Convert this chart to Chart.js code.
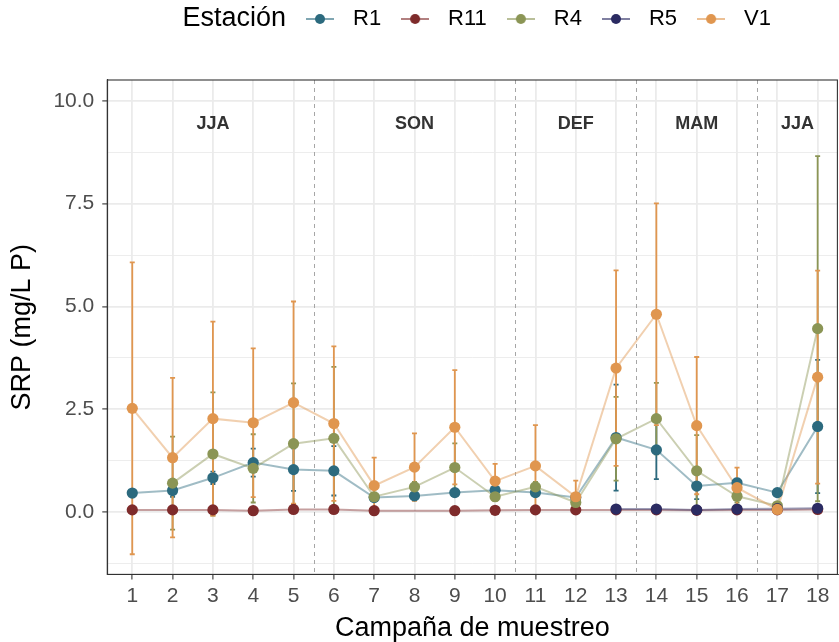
<!DOCTYPE html>
<html>
<head>
<meta charset="utf-8">
<script src="https://cdn.jsdelivr.net/npm/chart.js@4.4.0/dist/chart.umd.min.js"></script>
<style>
html,body{margin:0;padding:0;overflow:hidden;background:#ffffff;}
canvas{display:block;}
</style>
</head>
<body>
<canvas id="c" width="843" height="642"></canvas>
<script>
// ---------------- data ----------------
const campaigns = [1,2,3,4,5,6,7,8,9,10,11,12,13,14,15,16,17,18];
const stations = ['R1','R11','R4','R5','V1'];
const stationColors = ['#2C6A7E','#7E2B2B','#8B9555','#2B2B62','#E0964F'];

const r1Mean  = [0.46,0.52,0.83,1.20,1.03,1.00,0.35,0.39,0.47,0.53,0.47,0.35,1.81,1.51,0.63,0.71,0.47,2.08];
const r1Sd    = [0.05,0.15,0.15,0.34,0.52,0.60,0.05,0.05,0.08,0.05,0.05,0.05,1.29,0.71,0.32,0.10,0.05,1.62];
const r11Mean = [0.05,0.05,0.05,0.03,0.06,0.06,0.03,null,0.03,0.04,0.05,0.05,0.05,0.05,0.04,0.05,0.05,0.06];
const r11Sd   = [0.02,0.02,0.02,0.02,0.02,0.02,0.02,null,0.02,0.02,0.02,0.02,0.02,0.02,0.02,0.02,0.02,0.02];
const r4Mean  = [null,0.70,1.41,1.06,1.66,1.79,0.37,0.61,1.08,0.37,0.61,0.23,1.78,2.27,1.00,0.38,0.15,4.46];
const r4Sd    = [null,1.13,1.50,0.83,1.47,1.74,0.10,0.12,0.59,0.10,0.12,0.05,1.02,0.87,0.87,0.15,0.05,4.20];
const r5Mean  = [null,null,null,null,null,null,null,null,null,null,null,null,0.07,0.07,0.05,0.07,0.08,0.09];
const r5Sd    = [null,null,null,null,null,null,null,null,null,null,null,null,0.02,0.02,0.02,0.02,0.02,0.02];
const v1Mean  = [2.52,1.32,2.27,2.17,2.66,2.15,0.64,1.09,2.06,0.75,1.12,0.37,3.50,4.81,2.10,0.59,0.06,3.28];
const v1Sd    = [3.55,1.94,2.36,1.81,2.46,1.88,0.68,0.82,1.39,0.42,0.99,0.39,2.38,2.70,1.67,0.49,0.03,2.59];

const seasonNames   = ['JJA','SON','DEF','MAM','JJA'];
const seasonCenters = [3,8,12,15,17.5];
const seasonBreaks  = [5.5,10.5,13.5,16.5];
const seasonLabelY  = 9.45;

const yMajorTicks = [0,2.5,5,7.5,10];
const yMinorTicks = [-1.25,1.25,3.75,6.25,8.75];

const legendTitle = 'Estación';
const xTitle = 'Campaña de muestreo';
const yTitle = 'SRP (mg/L P)';

// ---------------- helpers ----------------
const means = [r1Mean, r11Mean, r4Mean, r5Mean, v1Mean];
const sds   = [r1Sd, r11Sd, r4Sd, r5Sd, v1Sd];
const FONT = '"Liberation Sans", Arial, Helvetica, sans-serif';
Chart.defaults.font.family = FONT;

function hexA(hex, a){
  const n = parseInt(hex.slice(1),16);
  return 'rgba(' + ((n>>16)&255) + ',' + ((n>>8)&255) + ',' + (n&255) + ',' + a + ')';
}
function legendIcon(color){
  const cv = document.createElement('canvas');
  cv.width = 28; cv.height = 12;
  const g = cv.getContext('2d');
  g.strokeStyle = hexA(color, 0.6); g.lineWidth = 2;
  g.beginPath(); g.moveTo(0,6); g.lineTo(28,6); g.stroke();
  g.fillStyle = color; g.beginPath(); g.arc(14,6,5,0,Math.PI*2); g.fill();
  return cv;
}
const icons = stationColors.map(legendIcon);

const datasets = [];
stations.forEach((s,i)=>{
  datasets.push({
    type:'line', label:s+'-line',
    data: campaigns.map((c,k)=>({x:c, y:means[i][k]})),
    borderColor: hexA(stationColors[i],0.45), borderWidth:2,
    pointRadius:0, pointHoverRadius:0, spanGaps:true, fill:false,
    order: 100 + (stations.length-1-i)
  });
});
const pointIndexStart = datasets.length;
stations.forEach((s,i)=>{
  datasets.push({
    type:'line', label:s, showLine:false,
    data: campaigns.map((c,k)=>({x:c, y:means[i][k]})),
    pointRadius:5.6, pointHoverRadius:5.6, pointBorderWidth:0,
    pointBackgroundColor: stationColors[i], backgroundColor: stationColors[i],
    borderColor: stationColors[i],
    order: stations.length-1-i
  });
});

// ---------------- plugins ----------------
const panelPlugin = {
  id:'panel',
  afterUpdate(chart){
    const lg = chart.legend;
    if(!lg || !lg.legendHitBoxes || !lg.legendHitBoxes.length) return;
    const dx = 298 - lg.legendHitBoxes[0].left;
    const dy = 8 - lg.legendHitBoxes[0].top;
    lg.left += dx; lg.right += dx; lg.top += dy; lg.bottom += dy;
    lg.legendHitBoxes.forEach(h=>{h.left += dx; h.top += dy;});
  },
  beforeDatasetsDraw(chart){
    const {ctx, chartArea:a, scales:{x,y}} = chart;
    ctx.save();
    ctx.strokeStyle = '#A6A6A6'; ctx.lineWidth = 1; ctx.setLineDash([4,4]);
    seasonBreaks.forEach(b=>{
      const px = Math.round(x.getPixelForValue(b))+0.5;
      ctx.beginPath(); ctx.moveTo(px,a.top); ctx.lineTo(px,a.bottom); ctx.stroke();
    });
    ctx.setLineDash([]);
    ctx.fillStyle = '#333333'; ctx.font = 'bold 18px ' + FONT;
    ctx.textAlign = 'center'; ctx.textBaseline = 'middle';
    seasonNames.forEach((n,i)=>{
      ctx.fillText(n, x.getPixelForValue(seasonCenters[i]), y.getPixelForValue(seasonLabelY));
    });
    ctx.restore();
  },
  beforeDatasetDraw(chart, args){
    if(args.index !== pointIndexStart) return;
    const {ctx, scales:{x,y}} = chart;
    ctx.save();
    ctx.lineWidth = 1.8;
    stations.forEach((s,i)=>{
      ctx.strokeStyle = stationColors[i];
      campaigns.forEach((c,k)=>{
        const m = means[i][k], sd = sds[i][k];
        if(m === null || sd === null) return;
        const px = x.getPixelForValue(c);
        const y1 = y.getPixelForValue(m - sd), y2 = y.getPixelForValue(m + sd);
        ctx.beginPath();
        ctx.moveTo(px,y1); ctx.lineTo(px,y2);
        ctx.moveTo(px-2.5,y1); ctx.lineTo(px+2.5,y1);
        ctx.moveTo(px-2.5,y2); ctx.lineTo(px+2.5,y2);
        ctx.stroke();
      });
    });
    ctx.restore();
  },
  afterDraw(chart){
    const {ctx, chartArea:a} = chart;
    ctx.save();
    ctx.strokeStyle = '#333333'; ctx.lineWidth = 1.1;
    ctx.strokeRect(a.left, a.top, a.right-a.left, a.bottom-a.top);
    const lg = chart.legend;
    if(lg && lg.legendHitBoxes.length){
      const hb = lg.legendHitBoxes[0];
      ctx.fillStyle = '#000000'; ctx.font = '27px ' + FONT;
      ctx.textAlign = 'right'; ctx.textBaseline = 'middle';
      ctx.fillText(legendTitle, hb.left - 12, hb.top + 11);
    }
    ctx.restore();
  }
};

new Chart(document.getElementById('c'), {
  type:'line',
  data:{datasets},
  options:{
    responsive:false, animation:false, devicePixelRatio:1,
    layout:{padding:{left:6, right:1, top:36, bottom:-3}},
    plugins:{
      tooltip:{enabled:false},
      legend:{
        display:true, position:'top', align:'center',
        labels:{
          usePointStyle:true, pointStyleWidth:44, padding:12,
          font:{size:22, family:FONT}, color:'#000000',
          generateLabels(chart){
            return stations.map((s,i)=>({
              text:s, pointStyle:icons[i], fillStyle:stationColors[i],
              strokeStyle:stationColors[i], lineWidth:0, hidden:false,
              datasetIndex: pointIndexStart+i, fontColor:'#000000'
            }));
          }
        }
      }
    },
    scales:{
      x:{
        type:'linear', min:0.38, max:18.49,
        afterBuildTicks(scale){ scale.ticks = campaigns.map(v=>({value:v})); },
        ticks:{font:{size:21}, color:'#4D4D4D', padding:4, autoSkip:false, maxRotation:0,
               callback:(v)=>String(v)},
        grid:{color:'#EBEBEB', lineWidth:1.8, tickColor:'#333333', tickLength:5, tickWidth:1.1},
        border:{display:true, color:'#333333', width:1.1},
        title:{display:true, text:xTitle, font:{size:27}, color:'#000000', padding:{top:0, bottom:0}}
      },
      y:{
        type:'linear', min:-1.52, max:10.51,
        afterBuildTicks(scale){
          scale.ticks = yMinorTicks.concat(yMajorTicks).sort((a,b)=>a-b).map(v=>({value:v}));
        },
        ticks:{font:{size:21}, color:'#4D4D4D', padding:8,
               callback:(v)=> yMajorTicks.includes(v) ? v.toFixed(1) : ''},
        grid:{
          color:'#EBEBEB',
          lineWidth:(c)=> (c.tick && yMajorTicks.includes(c.tick.value)) ? 1.8 : 0.9,
          tickColor:(c)=> (c.tick && yMajorTicks.includes(c.tick.value)) ? '#333333' : 'rgba(0,0,0,0)',
          tickLength:5, tickWidth:1.1
        },
        border:{display:true, color:'#333333', width:1.1},
        title:{display:true, text:yTitle, font:{size:27}, color:'#000000', padding:{top:0, bottom:7}}
      }
    }
  },
  plugins:[panelPlugin]
});
</script>
</body>
</html>
